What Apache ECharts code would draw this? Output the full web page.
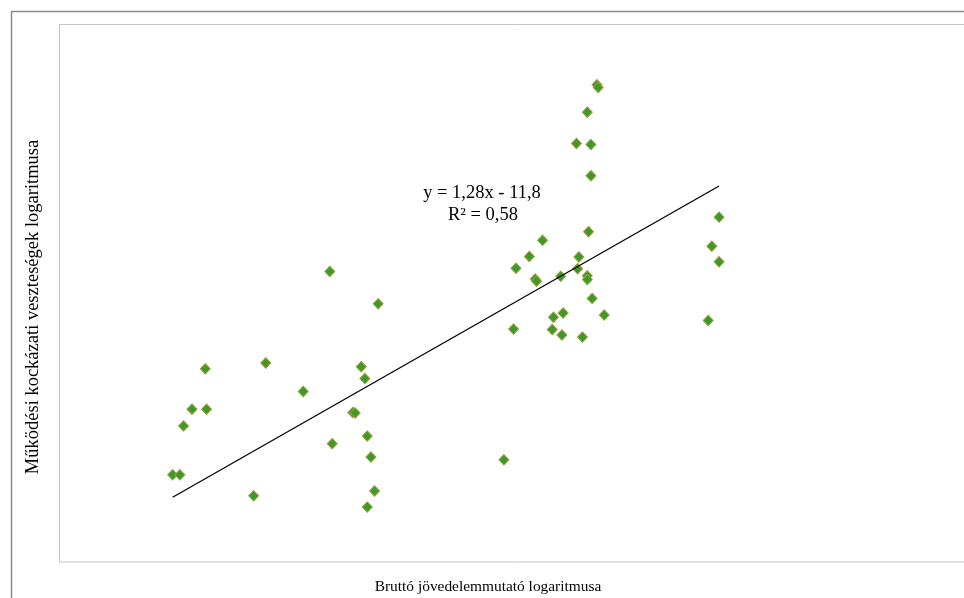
<!DOCTYPE html>
<html>
<head>
<meta charset="utf-8">
<script src="https://cdn.jsdelivr.net/npm/echarts@6/dist/echarts.min.js"></script>
<style>html,body{margin:0;padding:0;background:#fff;}#c{width:964px;height:598px;}</style>
</head>
<body>
<div id="c"></div>
<script>
// Data (x: log gross income indicator, y: log operational loss)
const xValues = [10.94, 11.00, 11.03, 11.10, 11.22, 11.21, 11.61, 11.71, 12.02, 12.24,
  12.26, 12.43, 12.45, 12.50, 12.53, 12.55, 12.58, 12.61, 12.55, 12.64,
  13.68, 13.76, 13.78, 13.89, 13.94, 13.95, 14.00, 14.08, 14.09, 14.15,
  14.16, 14.17, 14.28, 14.29, 14.30, 14.33, 14.37, 14.37, 14.37, 14.38,
  14.40, 14.40, 14.41, 14.45, 14.46, 14.51, 15.37, 15.40, 15.46, 15.46];
const yValues = [2.62, 2.62, 3.53, 3.84, 3.84, 4.59, 2.23, 4.70, 4.17, 6.40,
  3.20, 3.78, 3.77, 4.63, 4.41, 3.34, 2.95, 2.32, 2.02, 5.80,
  2.90, 5.33, 6.46, 6.68, 6.26, 6.22, 6.98, 5.32, 5.55, 6.31,
  5.22, 5.63, 8.78, 6.45, 6.67, 5.18, 6.32, 6.25, 9.36, 7.14,
  8.76, 8.18, 5.90, 9.87, 9.82, 5.59, 5.49, 6.87, 7.41, 6.58];
// Visible axis range (the right part of the plot area is cut off in the picture)
const xAxisMin = 10, xAxisMax = 17.486;
const yAxisMin = 1, yAxisMax = 11;
// Trend line: y = 1,28x - 11,8 ; R² = 0,58
const trendSlope = 1.28;
const trendIntercept = -11.8;
const equationText = 'y = 1,28x - 11,8';
const r2Text = 'R² = 0,58';
const xTitle = 'Bruttó jövedelemmutató logaritmusa';
const yTitle = 'Működési kockázati veszteségek logaritmusa';

const points = xValues.map((x, i) => [x, yValues[i]]);
const xMin = Math.min(...xValues), xMax = Math.max(...xValues);
const trend = [[xMin, trendSlope * xMin + trendIntercept], [xMax, trendSlope * xMax + trendIntercept]];

const chart = echarts.init(document.getElementById('c'), null, {renderer: 'canvas'});
const font = 'Liberation Serif, Times New Roman, serif';
chart.setOption({
  animation: false,
  backgroundColor: '#ffffff',
  grid: {left: 59, top: 24, right: 0, height: 538, show: false},
  xAxis: {type: 'value', min: xAxisMin, max: xAxisMax, axisLine: {show: false}, axisTick: {show: false}, axisLabel: {show: false}, splitLine: {show: false}},
  yAxis: {type: 'value', min: yAxisMin, max: yAxisMax, axisLine: {show: false}, axisTick: {show: false}, axisLabel: {show: false}, splitLine: {show: false}},
  series: [
    {type: 'scatter', data: points, symbol: 'diamond', symbolSize: [10, 10.5], z: 2,
     itemStyle: {color: '#3a9a2c', borderColor: '#a39c3a', borderWidth: 1, opacity: 1}},
    {type: 'line', data: trend, symbol: 'none', z: 3, silent: true,
     lineStyle: {color: '#000000', width: 1.3}}
  ],
  graphic: [
    {type: 'rect', shape: {x: 11.5, y: 11.5, width: 1100, height: 1000}, style: {fill: 'none', stroke: '#8a8a8a', lineWidth: 1.5}, z: 0},
    {type: 'rect', shape: {x: 59.5, y: 24.5, width: 1100, height: 537.5}, style: {fill: 'none', stroke: '#c4c4c4', lineWidth: 1}, z: 0},
    {type: 'text', x: 482, y: 193, style: {text: equationText, font: '18.5px ' + font, fill: '#000', align: 'center', verticalAlign: 'middle'}, z: 10},
    {type: 'text', x: 483, y: 215, style: {text: r2Text, font: '18.5px ' + font, fill: '#000', align: 'center', verticalAlign: 'middle'}, z: 10},
    {type: 'text', x: 488, y: 587, style: {text: xTitle, font: '15.4px ' + font, fill: '#000', align: 'center', verticalAlign: 'middle'}, z: 10},
    {type: 'text', x: 33, y: 307, rotation: Math.PI / 2, style: {text: yTitle, font: '18.5px ' + font, fill: '#000', align: 'center', verticalAlign: 'middle'}, z: 10}
  ]
});
</script>
</body>
</html>
